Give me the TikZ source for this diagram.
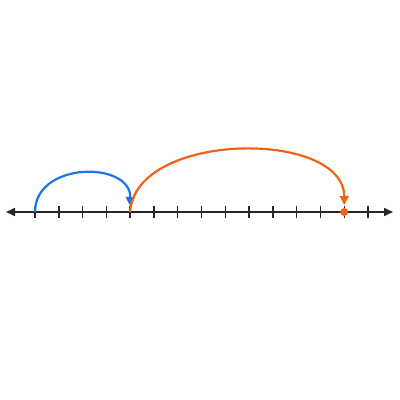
\documentclass[tikz,border=0pt]{standalone}
\usepackage{tikz}
\usetikzlibrary{arrows.meta}
\definecolor{bb}{RGB}{28, 117, 228}
\definecolor{oo}{RGB}{240, 98, 22}

\begin{document}
\begin{tikzpicture}[x=1pt,y=1pt]
\useasboundingbox (0,0) rectangle (400,-400);
\coordinate (L) at (6,-212);
\coordinate (R) at (393,-212);
\draw [line width=1.6, color=black!85, {Triangle[length=9pt,width=8pt]}-{Triangle[length=9pt,width=8pt]}] (L) to (R);
\foreach \i in {0,...,14} {
  \coordinate (t\i) at (35+23.79*\i,-212);
  \draw [line width=1.5, color=black!85] ([yshift=6]t\i) to ([yshift=-6]t\i);
}
\node (dot) [circle, minimum size=8pt, inner sep=0pt, fill=oo] at (t13) {};
\coordinate (bend) at ([yshift=6]t4);
\coordinate (oend) at ([yshift=7]t13);
\draw [line width=2.2, color=bb, -{Triangle[length=9pt,width=9pt]}] (t0) .. controls (35,-161) and (131,-161) .. (bend);
\draw [line width=2.2, color=oo, -{Triangle[length=9pt,width=9pt]}] (t4) .. controls (135,-131) and (344,-129) .. (oend);
\end{tikzpicture}
\end{document}
